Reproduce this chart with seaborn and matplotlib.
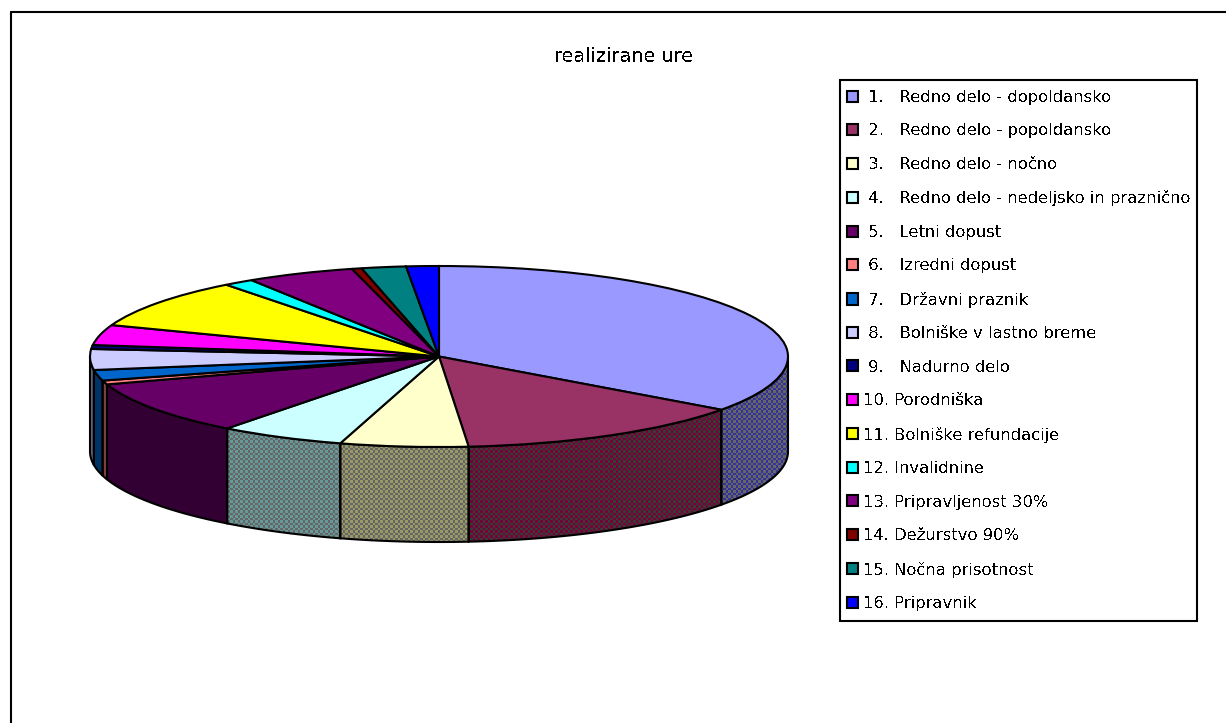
"""Realizirane ure - 3D style pie chart with legend."""

import matplotlib
matplotlib.use("Agg")
import matplotlib.pyplot as plt
from matplotlib.lines import Line2D
from matplotlib.patches import Polygon, Rectangle
import numpy as np
import seaborn as sns

sns.set_theme(style="white")
plt.rcParams["font.family"] = ["DejaVu Sans"]
plt.rcParams["text.antialiased"] = False

# Values (% of the whole)
LABELS = [
    " 1.   Redno delo - dopoldansko",
    " 2.   Redno delo - popoldansko",
    " 3.   Redno delo - nočno",
    " 4.   Redno delo - nedeljsko in praznično",
    " 5.   Letni dopust",
    " 6.   Izredni dopust",
    " 7.   Državni praznik",
    " 8.   Bolniške v lastno breme",
    " 9.   Nadurno delo",
    "10. Porodniška",
    "11. Bolniške refundacije",
    "12. Invalidnine",
    "13. Pripravljenost 30%",
    "14. Dežurstvo 90%",
    "15. Nočna prisotnost",
    "16. Pripravnik",
]
VALUES = [34.9, 13.6, 5.9, 5.8, 9.6, 0.7, 1.9, 3.7, 0.7, 3.6, 8.9, 1.4, 5.0, 0.45, 2.05, 1.5]
TOP_COLORS = ["#9999FF", "#993366", "#FFFFCC", "#CCFFFF", "#660066", "#FF8080", "#0066CC", "#CCCCFF",
              "#000080", "#FF00FF", "#FFFF00", "#00FFFF", "#800080", "#800000", "#008080", "#0000FF"]
# Dither pairs for the rim, only the front slices are ever seen
RIM_A = ["#333399", "#7A003C", "#999966", "#669999", "#330033", "#804040", "#003366", "#666680"]
RIM_B = ["#666666", "#333D33", "#666666", "#666666", "#330033", "#804040", "#003366", "#666680"]

W, H = 1226, 723
CX, CY, RX, RY = 439, 356.5, 349, 90.5
DEPTH = 95 / RY
LW = 1.5
CELL = 2.5

fig = plt.figure(figsize=(W / 100, H / 100), dpi=100, facecolor="white")
ax = fig.add_axes([0, 0, 1, 1])

wedges, _ = ax.pie(VALUES, colors=sns.color_palette(TOP_COLORS), startangle=90, counterclock=False,
                   wedgeprops={"edgecolor": "black", "linewidth": LW, "zorder": 5})

# rim below the front half of the pie
rows, cols = int(H / CELL), int(W / CELL)
yy, xx = np.indices((rows, cols))
checker = (xx + yy) % 2 == 0
xlim = (-CX / RX, (W - CX) / RX)
ylim = ((CY - H) / RY, CY / RY)
edges = np.cumsum([0] + VALUES) / sum(VALUES) * 360
for i, (a, b) in enumerate(zip(edges[:-1], edges[1:])):
    lo, hi = max(a, 90), min(b, 270)
    if lo >= hi:
        continue
    th = np.radians(np.linspace(lo, hi, 80))
    xs, ys = np.sin(th), np.cos(th)
    pts = np.column_stack([np.r_[xs, xs[::-1]], np.r_[ys, ys[::-1] - DEPTH]])
    tex = np.zeros((rows, cols, 3))
    tex[checker] = matplotlib.colors.to_rgb(RIM_A[i])
    tex[~checker] = matplotlib.colors.to_rgb(RIM_B[i])
    im = ax.imshow(tex, extent=(*xlim, *ylim), origin="lower", interpolation="nearest", aspect="auto", zorder=2)
    im.set_clip_path(Polygon(pts, closed=True, transform=ax.transData))
    ax.add_patch(Polygon(pts, closed=True, facecolor="none", edgecolor="black", linewidth=LW, zorder=3))

ax.set_aspect("auto")
ax.set_xlim(*xlim)
ax.set_ylim(*ylim)
ax.axis("off")

fig.text(623 / W, 1 - 56 / H, "realizirane ure", ha="center", va="center", fontsize=13.9, color="black")

# legend box drawn apart, its padding differs between width and height
fig.add_artist(Rectangle((840 / W, 1 - 621 / H), 357 / W, 541 / H, transform=fig.transFigure,
                         fill=False, edgecolor="black", linewidth=LW))
fig.legend(wedges, LABELS, loc="upper left", bbox_to_anchor=(837 / W, 1 - 80 / H), borderaxespad=0,
           fontsize=11.8, frameon=False, handlelength=0.66, handleheight=0.66, handletextpad=0.3,
           labelspacing=1.128, borderpad=0.6, labelcolor="black")

# frame of the sheet, open at right and bottom in the scan
fig.add_artist(Line2D([11 / W, 11 / W], [0, 1 - 12 / H], color="black", linewidth=LW))
fig.add_artist(Line2D([11 / W, 1], [1 - 12 / H, 1 - 12 / H], color="black", linewidth=LW))

fig.savefig("out.png", dpi=100)
